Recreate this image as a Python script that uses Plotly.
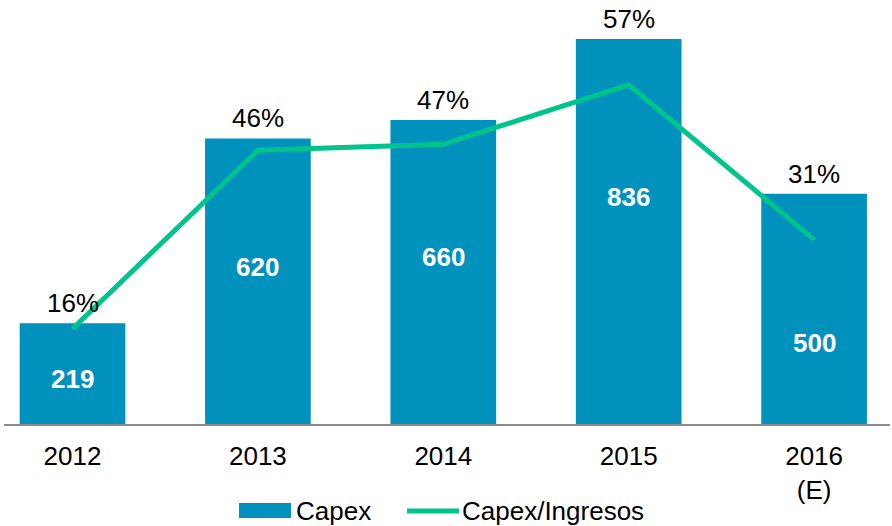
import plotly.graph_objects as go

# ---- data ----
years = ["2012", "2013", "2014", "2015", "2016<br>(E)"]
capex = [219, 620, 660, 836, 500]
ratio = [16, 46, 47, 57, 31]
ratio_labels = ["16%", "46%", "47%", "57%", "31%"]

# ---- style / layout ----
BAR_COLOR = "#0091BD"
LINE_COLOR = "#00C48C"
FONT = "Arial, Liberation Sans, sans-serif"
FS = 26
W, H = 892, 526
ML, MR, MT, MB = 4, 2, 10, 102
label_frac = [0.45, 0.55, 0.55, 0.59, 0.35]  # vertical placement of value labels inside bars

PW = W - ML - MR
PH = H - MT - MB


def px_x(px):
    return (px - ML) / PW


def px_y(py):
    return (H - MB - py) / PH


fig = go.Figure()
fig.add_trace(go.Bar(
    x=years, y=capex, marker_color=BAR_COLOR, width=0.57,
    marker_line_width=0, showlegend=False, hoverinfo="skip",
))
fig.add_trace(go.Scatter(
    x=years, y=ratio, yaxis="y2", mode="lines",
    line=dict(color=LINE_COLOR, width=5), showlegend=False, hoverinfo="skip",
))

ann = []
for i, (v, f) in enumerate(zip(capex, label_frac)):
    ann.append(dict(x=i, y=v * f, xref="x", yref="y", text=f"<b>{v}</b>",
                    showarrow=False, font=dict(family=FONT, size=FS, color="white")))
for i, (v, t) in enumerate(zip(capex, ratio_labels)):
    ann.append(dict(x=i, y=v, xref="x", yref="y", text=t, yanchor="bottom",
                    yshift=3, showarrow=False, font=dict(family=FONT, size=FS, color="black")))

# custom legend
shapes = [
    dict(type="rect", xref="paper", yref="paper", x0=px_x(239), x1=px_x(291),
         y0=px_y(518), y1=px_y(503), fillcolor=BAR_COLOR, line_width=0),
    dict(type="line", xref="paper", yref="paper", x0=px_x(407), x1=px_x(459),
         y0=px_y(511), y1=px_y(511), line=dict(color=LINE_COLOR, width=5)),
]
ann.append(dict(x=px_x(294), y=px_y(511), xref="paper", yref="paper", text="Capex",
                xanchor="left", yanchor="middle", showarrow=False,
                font=dict(family=FONT, size=FS, color="black")))
ann.append(dict(x=px_x(460), y=px_y(511), xref="paper", yref="paper", text="Capex/Ingresos",
                xanchor="left", yanchor="middle", showarrow=False,
                font=dict(family=FONT, size=FS, color="black")))

cat_w = 185.4
x0 = (ML - 72.5) / cat_w
fig.update_layout(
    width=W, height=H,
    margin=dict(l=ML, r=MR, t=MT, b=MB),
    plot_bgcolor="white", paper_bgcolor="white",
    font=dict(family=FONT, size=FS, color="black"),
    xaxis=dict(range=[x0, x0 + PW / cat_w], showline=True, linecolor="#8C8C8C",
               linewidth=2, ticks="", showgrid=False, zeroline=False,
               ticklabelstandoff=8,
               tickfont=dict(family=FONT, size=FS, color="black")),
    yaxis=dict(range=[0, PH / 0.4605], visible=False, showgrid=False, zeroline=False),
    yaxis2=dict(range=[0, PH / 5.95], overlaying="y", visible=False,
                showgrid=False, zeroline=False),
    annotations=ann, shapes=shapes, showlegend=False,
)

fig.write_html("out.html", config={"displayModeBar": False},
               post_script="document.body.style.margin='0';")
